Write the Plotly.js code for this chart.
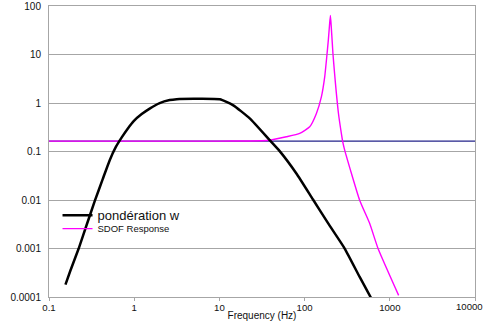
<!DOCTYPE html>
<html>
<head>
<meta charset="utf-8">
<script src="https://cdn.plot.ly/plotly-3.0.1.min.js"></script>
<style>
  html, body { margin: 0; padding: 0; background: #ffffff; }
  #chart { width: 487px; height: 324px; }
</style>
</head>
<body>
<div id="chart"></div>
<script>
// Weighting curve "pondération w"
const weightFreq = [0.156, 0.178, 0.223, 0.277, 0.344, 0.427, 0.516, 0.607, 0.717, 0.839, 0.986, 1.225, 1.52, 1.99, 2.61, 3.15, 5, 10.1, 14.4, 22.7, 38.9, 51, 80.1, 125.5, 191.8, 295.6, 443, 608];
const weightVal  = [1.8e-4, 3.47e-4, 9.98e-4, 0.00309, 0.00944, 0.0269, 0.0663, 0.123, 0.198, 0.296, 0.423, 0.59, 0.766, 0.995, 1.148, 1.2, 1.22, 1.19, 0.905, 0.481, 0.1715, 0.1017, 0.0352, 0.01024, 0.00317, 0.000998, 2.59e-4, 9.27e-5];

// SDOF response
const sdofFreq = [0.1, 1, 10, 20, 38.9, 61.1, 87.6, 114.8, 137.6, 157.4, 172.2, 182, 190, 196, 201, 206, 211, 215, 225, 236, 250, 270, 280, 295.5, 443, 581, 728, 1270];
const sdofVal  = [0.164, 0.164, 0.164, 0.165, 0.171, 0.201, 0.236, 0.323, 0.61, 1.34, 3.47, 9, 20, 40, 64, 35, 18, 10.6, 4, 1.58, 0.6, 0.236, 0.16, 0.107, 0.0099, 0.00327, 0.001, 0.000108];

// Constant reference level (navy line)
const refFreq = [0.1, 10000];
const refVal  = [0.164, 0.164];

// Tick labels
const xTickVals = [0.1, 1, 10, 100, 1000, 10000];
const xTickText = ["0.1", "1", "10", "100", "1000", "10000"];
const yTickVals = [100, 10, 1, 0.1, 0.01, 0.001, 0.0001];
const yTickText = ["100", "10", "1", "0.1", "0.01", "0.001", "0.0001"];

// The last x label sits at the right edge; it is drawn right-aligned at its tick so it stays inside the page
const lastIdx = xTickVals.length - 1;
const shownXText = xTickText.map((t, i) => (i === lastIdx ? '' : t));

const traces = [
  {
    x: refFreq, y: refVal, type: 'scatter', mode: 'lines',
    line: { color: '#23238a', width: 1.3 },
    showlegend: false, hoverinfo: 'skip'
  },
  {
    x: sdofFreq, y: sdofVal, type: 'scatter', mode: 'lines',
    name: 'SDOF Response',
    line: { color: '#ff00ff', width: 1.4, shape: 'spline', smoothing: 0.5 },
    legend: 'legend2'
  },
  {
    x: weightFreq, y: weightVal, type: 'scatter', mode: 'lines',
    name: 'pondération w',
    line: { color: '#000000', width: 2.5, shape: 'spline', smoothing: 0.5 },
    legend: 'legend'
  }
];

const gridCol = '#a6a6a6';
const font = { family: 'Liberation Sans, Arial, sans-serif', color: '#111111', size: 10 };

const layout = {
  width: 487, height: 324,
  margin: { l: 49, r: 12, t: 6, b: 27 },
  paper_bgcolor: '#ffffff', plot_bgcolor: '#ffffff',
  font: font,
  xaxis: {
    type: 'log', range: [-1, 4],
    tickvals: xTickVals, ticktext: shownXText,
    showgrid: false, zeroline: false,
    showline: true, linecolor: gridCol, linewidth: 1, mirror: true,
    ticks: 'outside', ticklen: 3, tickcolor: gridCol,
    ticklabelstandoff: -2,
    tickfont: { size: 9.6, color: '#111111' },
    title: { text: 'Frequency (Hz)', font: { size: 10, color: '#111111' }, standoff: 0 }
  },
  yaxis: {
    type: 'log', range: [-4, 2],
    tickvals: yTickVals, ticktext: yTickText,
    showgrid: true, gridcolor: gridCol, gridwidth: 1,
    zeroline: false,
    showline: true, linecolor: gridCol, linewidth: 1, mirror: true,
    ticks: '', ticklabelstandoff: 5, ticklabeloverflow: 'allow',
    tickfont: { size: 10, color: '#111111' }
  },
  annotations: [
    {
      x: Math.log10(xTickVals[lastIdx]), xref: 'x', xanchor: 'right', xshift: 10,
      y: 0, yref: 'paper', yanchor: 'top', yshift: -2,
      text: xTickText[lastIdx], showarrow: false,
      font: { size: 9.6, color: '#111111' }
    }
  ],
  legend: {
    x: 0.02, y: 0.281, xanchor: 'left', yanchor: 'middle',
    bgcolor: 'rgba(255,255,255,0)', borderwidth: 0,
    font: { size: 13, color: '#111111' }
  },
  legend2: {
    x: 0.02, y: 0.235, xanchor: 'left', yanchor: 'middle',
    bgcolor: 'rgba(255,255,255,0)', borderwidth: 0,
    font: { size: 9.5, color: '#111111' }
  },
  showlegend: true
};

Plotly.newPlot('chart', traces, layout, { staticPlot: true, displayModeBar: false });
</script>
</body>
</html>
